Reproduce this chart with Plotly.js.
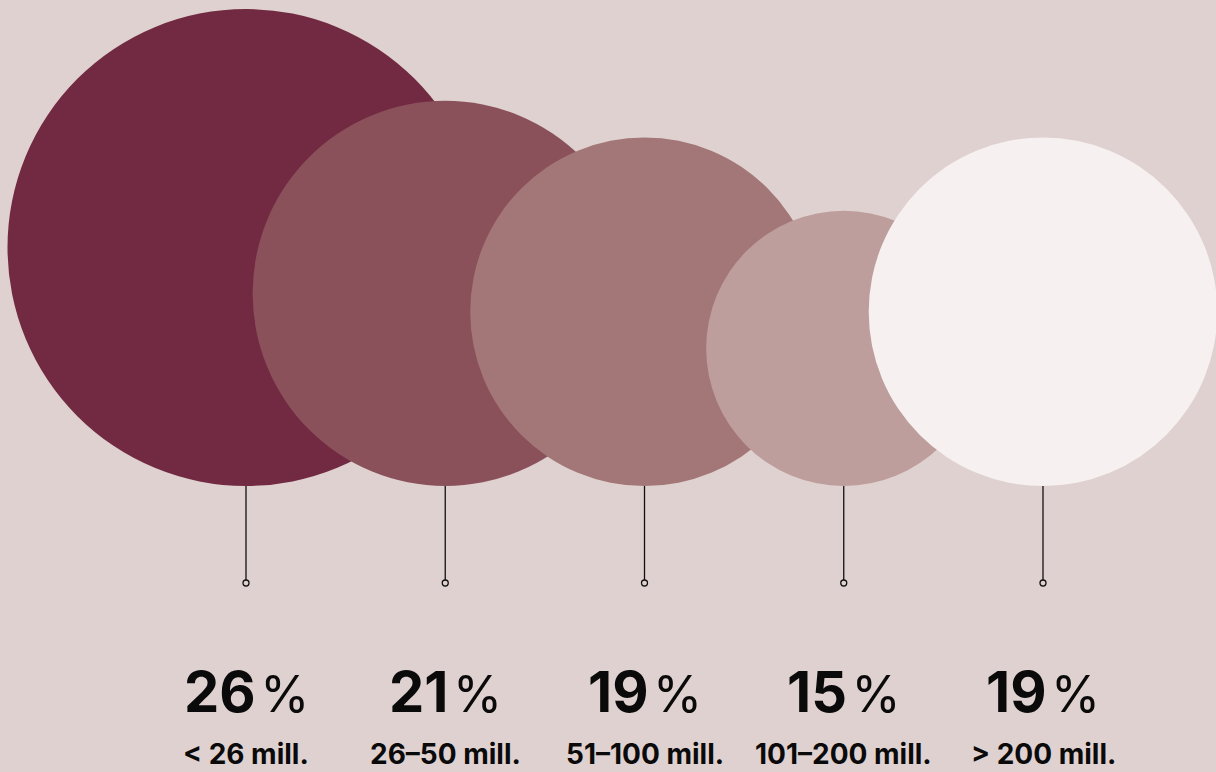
<!DOCTYPE html>
<html>
<head>
<meta charset="utf-8">
<script src="https://cdn.plot.ly/plotly-3.0.1.min.js"></script>
<style>html,body{margin:0;padding:0;background:#dfd1cf;}</style>
</head>
<body>
<div id="chart" style="width:1216px;height:772px;"></div>
<script>
const categories = ['< 26 mill.', '26–50 mill.', '51–100 mill.', '101–200 mill.', '> 200 mill.'];
const shares = [26, 21, 19, 15, 19];
const colors = ['#722a42', '#8a515b', '#a37777', '#bd9e9c', '#f6f0f0'];

const W = 1216, H = 772;
const BG = '#dfd1cf';
const firstX = 246, stepX = 199.25;
const baseY = 486;          // circle bottoms
const pxPerPct = 238.5 / 26; // radius proportional to share
const stemEnd = 583;

const cx = categories.map((c, i) => firstX + i * stepX);

const shapes = shares.map((v, i) => {
  const r = v * pxPerPct;
  return {
    type: 'circle', xref: 'x', yref: 'y', layer: 'below',
    x0: cx[i] - r, x1: cx[i] + r, y0: baseY - 2 * r, y1: baseY,
    fillcolor: colors[i], line: {width: 0}
  };
});

const traces = [];
categories.forEach((c, i) => {
  traces.push({
    x: [cx[i], cx[i]], y: [baseY, stemEnd - 3],
    mode: 'lines', line: {color: '#111', width: 1.3},
    hoverinfo: 'skip', showlegend: false
  });
});
traces.push({
  x: cx, y: cx.map(() => stemEnd),
  mode: 'markers',
  marker: {symbol: 'circle', size: 6, color: BG, line: {color: '#111', width: 1.3}},
  hoverinfo: 'skip', showlegend: false
});

const annotations = [];
categories.forEach((c, i) => {
  annotations.push({
    x: cx[i], y: 692, xref: 'x', yref: 'y',
    text: '<b>' + shares[i] + '</b><span style="font-weight:400;font-size:50px">\u200A%</span>',
    showarrow: false, xanchor: 'center', yanchor: 'middle',
    font: {family: 'Inter, sans-serif', size: 56, color: '#0a0a0a'}
  });
  annotations.push({
    x: cx[i], y: 754, xref: 'x', yref: 'y',
    text: '<b>' + c.replace('<', '&lt;').replace('>', '&gt;') + '</b>',
    showarrow: false, xanchor: 'center', yanchor: 'middle', borderpad: 0,
    font: {family: 'Inter, sans-serif', size: 28, color: '#0a0a0a'}
  });
});

const layout = {
  width: W, height: H,
  margin: {l: 0, r: 0, t: 0, b: 0},
  paper_bgcolor: BG, plot_bgcolor: BG,
  xaxis: {range: [0, W], visible: false, fixedrange: true},
  yaxis: {range: [H, 0], visible: false, fixedrange: true},
  shapes: shapes,
  annotations: annotations,
  showlegend: false
};

Plotly.newPlot('chart', traces, layout, {staticPlot: true, displayModeBar: false});
</script>
</body>
</html>
